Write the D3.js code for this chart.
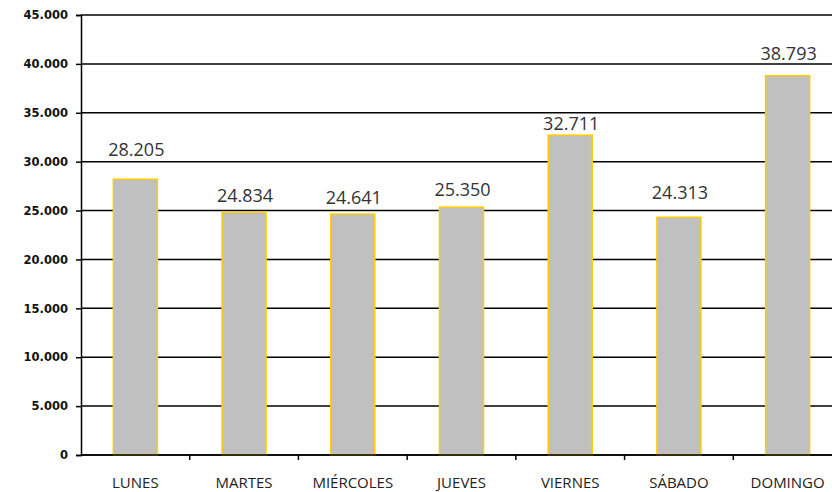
<!DOCTYPE html>
<html>
<head>
<meta charset="utf-8">
<script src="https://cdn.jsdelivr.net/npm/d3@7"></script>
<style>
  body { margin: 0; background: #fff; }
  svg { display: block; }
</style>
</head>
<body>
<div id="chart"></div>
<script>
// data
const dias = ["LUNES", "MARTES", "MIÉRCOLES", "JUEVES", "VIERNES", "SÁBADO", "DOMINGO"];
const visitas = [28205, 24834, 24641, 25350, 32711, 24313, 38793];
const yTicks = [0, 5000, 10000, 15000, 20000, 25000, 30000, 35000, 40000, 45000];
// labels were placed by hand in the original, gap (px) above each bar
const labelGap = [23, 10, 10, 11, 5, 18, 16];

const width = 832, height = 492;
// plot runs a bit past the right edge (cropped in the original)
const mLeft = 81, mRight = 842, mTop = 15, mBottom = 455;

const fmt = d3.formatLocale({ decimal: ",", thousands: ".", grouping: [3], currency: ["", "€"] }).format(",d");

const svg = d3.select("#chart").append("svg")
  .attr("width", width)
  .attr("height", height);

const x = d3.scaleBand().domain(dias).range([mLeft, mRight]).padding(0);
const y = d3.scaleLinear().domain([0, 45000]).range([mBottom, mTop]);

// gridlines
svg.append("g")
  .selectAll("line")
  .data(yTicks)
  .join("line")
  .attr("x1", mLeft).attr("x2", mRight)
  .attr("y1", d => y(d)).attr("y2", d => y(d))
  .attr("stroke", "#000")
  .attr("stroke-width", 1.5);

// y axis
const yAxis = svg.append("g")
  .attr("transform", `translate(${mLeft},0)`)
  .call(d3.axisLeft(y).tickValues(yTicks).tickFormat(fmt).tickSize(5).tickPadding(8));
yAxis.select(".domain").attr("stroke", "#000").attr("stroke-width", 1.5);
yAxis.selectAll(".tick line").attr("stroke-width", 1.5);
yAxis.selectAll("text")
  .attr("font-family", "'DejaVu Sans', Verdana, sans-serif")
  .attr("font-weight", "bold")
  .attr("font-size", 11.5)
  .attr("fill", "#111");

// bars
const barW = x.bandwidth() * 0.405;
svg.append("g")
  .selectAll("rect")
  .data(visitas)
  .join("rect")
  .attr("x", (d, i) => x(dias[i]) + (x.bandwidth() - barW) / 2)
  .attr("y", d => y(d))
  .attr("width", barW)
  .attr("height", d => mBottom - y(d))
  .attr("fill", "#c0c0c0")
  .attr("stroke", "#ffcc00")
  .attr("stroke-width", 1.5);

// value labels
svg.append("g")
  .selectAll("text")
  .data(visitas)
  .join("text")
  .attr("x", (d, i) => x(dias[i]) + x.bandwidth() / 2 + 1)
  .attr("y", (d, i) => y(d) - labelGap[i])
  .attr("text-anchor", "middle")
  .attr("font-family", "'Open Sans', sans-serif")
  .attr("font-size", 18)
  .attr("fill", "#333")
  .text(d => fmt(d));

// x axis with ticks at band edges
const xAxis = svg.append("g")
  .attr("transform", `translate(0,${mBottom})`);
xAxis.append("line")
  .attr("x1", mLeft).attr("x2", mRight)
  .attr("stroke", "#000").attr("stroke-width", 1.5);
xAxis.selectAll(".edge")
  .data(dias)
  .join("line")
  .attr("class", "edge")
  .attr("x1", d => x(d) + x.bandwidth())
  .attr("x2", d => x(d) + x.bandwidth())
  .attr("y1", 0).attr("y2", 5)
  .attr("stroke", "#000").attr("stroke-width", 1.5);
xAxis.selectAll(".lbl")
  .data(dias)
  .join("text")
  .attr("class", "lbl")
  .attr("x", d => x(d) + x.bandwidth() / 2)
  .attr("y", 33)
  .attr("text-anchor", "middle")
  .attr("font-family", "'Open Sans', sans-serif")
  .attr("font-size", 15)
  .attr("fill", "#222")
  .text(d => d);
</script>
</body>
</html>
